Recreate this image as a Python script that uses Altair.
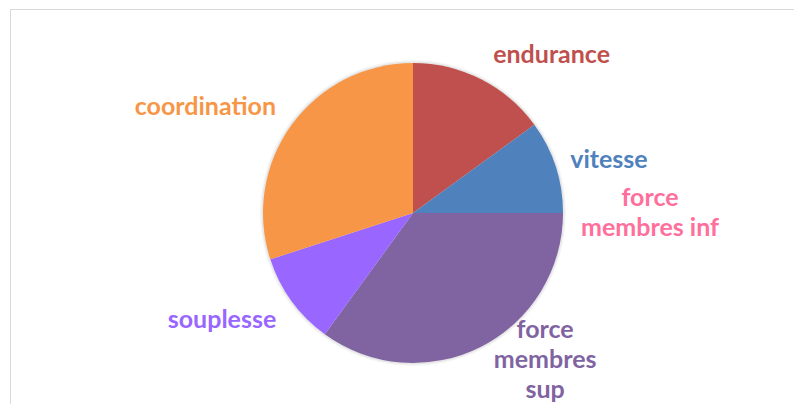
import altair as alt
import pandas as pd
import math

# Data (percent of the whole)
categories = ["endurance", "vitesse", "force membres inf", "force membres sup", "souplesse", "coordination"]
values = [15, 10, 0, 35, 10, 30]
labels = ["endurance", "vitesse", "force\nmembres inf", "force\nmembres\nsup", "souplesse", "coordination"]
colors = ["#C0504D", "#4F81BD", "#FF6F9C", "#8064A2", "#9966FF", "#F79646"]

# Label placement (Excel "best fit"), as polar angle (deg, clockwise from top) and distance
label_angle = [41.3, 74.9, 86.4, 131.5, 240.7, 297.0]
label_dist = [210, 203, 237.5, 176.4, 219, 233]

df = pd.DataFrame({
    "categorie": categories,
    "valeur": values,
    "ordre": list(range(len(categories))),
    "etiquette": labels,
    "angle": label_angle,
    "distance": label_dist,
})

color_scale = alt.Scale(domain=categories, range=colors)
R = 150

base = alt.Chart(df)

shadow1 = base.mark_arc(radius=R + 3, color="#000000", opacity=0.04).encode(
    theta=alt.Theta("valeur:Q", stack=True),
    order=alt.Order("ordre:Q"),
)
shadow2 = base.mark_arc(radius=R + 1.5, color="#000000", opacity=0.06).encode(
    theta=alt.Theta("valeur:Q", stack=True),
    order=alt.Order("ordre:Q"),
)

pie = base.mark_arc(radius=R).encode(
    theta=alt.Theta("valeur:Q", stack=True),
    color=alt.Color("categorie:N", scale=color_scale, legend=None),
    order=alt.Order("ordre:Q"),
)

text = base.mark_text(
    font="Lato", fontWeight="bold", fontSize=25, lineBreak="\n", lineHeight=30,
    align="center", baseline="middle",
).encode(
    theta=alt.Theta("angle:Q", scale=alt.Scale(domain=[0, 360], range=[0, 2 * math.pi])),
    radius=alt.Radius("distance:Q", scale=alt.Scale(type="linear", domain=[0, 300], range=[0, 300], zero=True)),
    text="etiquette:N",
    color=alt.Color("categorie:N", scale=color_scale, legend=None),
)

# chart frame (only its top and left edges fall inside the window)
frame_top = alt.Chart(pd.DataFrame({"k": [0]})).mark_rule(color="#D9D9D9", strokeWidth=1).encode(
    x=alt.value(-22), x2=alt.value(800), y=alt.value(-12.5)
)
frame_left = alt.Chart(pd.DataFrame({"k": [0]})).mark_rule(color="#D9D9D9", strokeWidth=1).encode(
    x=alt.value(-21.5), y=alt.value(-13), y2=alt.value(400)
)

chart = alt.layer(frame_top, frame_left, shadow1, shadow2, pie, text).resolve_scale(
    theta="independent", radius="independent"
).properties(
    width=762, height=382,
    autosize=alt.AutoSizeParams(type="none"),
    padding={"left": 24, "top": 14, "right": 0, "bottom": 0},
).configure_view(stroke=None)

chart.save("out.html", embed_options={"renderer": "svg", "actions": False})
